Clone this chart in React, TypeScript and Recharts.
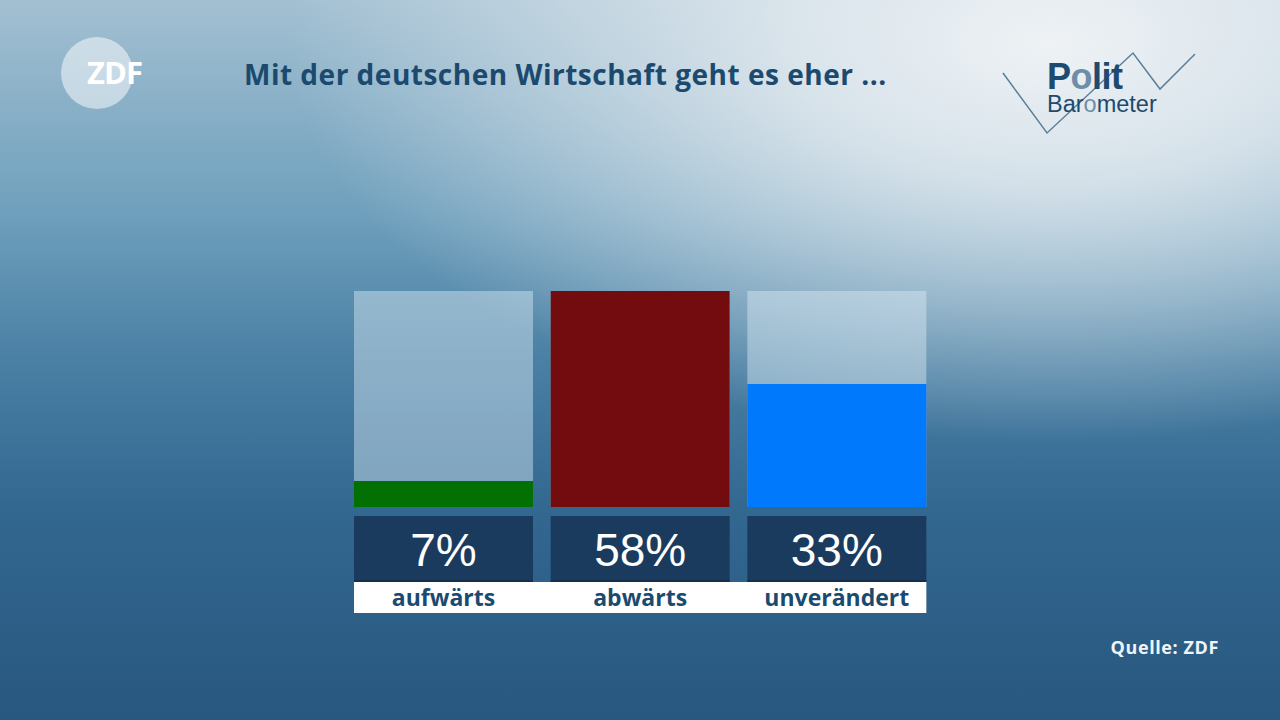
import React from "react";
import { BarChart, Bar, XAxis, YAxis, Cell, LabelList } from "recharts";

const categories = ["aufwärts", "abwärts", "unverändert"];
const values = [7, 58, 33];
const barColors = ["#037003", "#720c0e", "#0179fd"];
const yMax = 58;

const data = categories.map((c, i) => ({ name: c, value: values[i] }));

const BoxLabel = (props: any) => {
  const { x, y, width, height, index, value } = props;
  const bottom = y + height;
  const boxTop = bottom + 9;
  const boxH = 66;
  const stripH = 31;
  const gap = 10;
  const left = index === 0 ? x : x - gap;
  const right = index === categories.length - 1 ? x + width : x + width + gap;
  return (
    <g>
      <rect x={x} y={boxTop} width={width} height={boxH} fill="#1b3b5e" />
      <rect x={x} y={boxTop + boxH - 2} width={width} height={2} fill="#142f4e" />
      <rect x={left} y={boxTop + boxH} width={right - left} height={stripH} fill="#ffffff" />
      <text
        x={x + width / 2}
        y={boxTop + 50}
        textAnchor="middle"
        fill="#ffffff"
        fontSize={46}
        fontFamily="'Liberation Sans', Arial, sans-serif"
      >
        {value}%
      </text>
      <text
        x={x + width / 2}
        y={boxTop + boxH + 24}
        textAnchor="middle"
        fill="#1b4a70"
        fontSize={23}
        fontWeight={700}
        fontFamily="'Open Sans', sans-serif"
      >
        {categories[index]}
      </text>
    </g>
  );
};

export default function App() {
  return (
    <div
      style={{
        position: "fixed",
        left: 0,
        top: 0,
        width: 1280,
        height: 720,
        overflow: "hidden",
        background:
          "radial-gradient(ellipse 760px 400px at 82% 6%, rgba(238,242,245,1) 0%, rgba(228,235,240,0.85) 35%, rgba(200,218,230,0) 100%), linear-gradient(to bottom, #a3c0d2 0%, #6e9fbc 30%, #4a80a4 50%, #336891 70%, #28577f 100%)",
      }}
    >
      <svg width={1280} height={720} style={{ position: "absolute", left: 0, top: 0 }}>
        <circle cx={97} cy={73} r={36} fill="rgba(255,255,255,0.5)" />
        <text x={87} y={84} fill="#ffffff" fontSize={31} fontWeight={700} fontFamily="'Open Sans', sans-serif" letterSpacing={-1}>
          ZDF
        </text>
        <text x={244} y={85} fill="#1b4a6e" fontSize={28} fontWeight={700} fontFamily="'Open Sans', sans-serif" letterSpacing={0.5}>
          Mit der deutschen Wirtschaft geht es eher ...
        </text>
        <polyline
          points="1003,73 1047,133 1133,53 1160,89 1195,54"
          fill="none"
          stroke="#5a7f9a"
          strokeWidth={1.5}
        />
        <text x={1047} y={89} fill="#1d4a6e" fontSize={36} fontWeight={700} fontFamily="'Liberation Sans', Arial, sans-serif" letterSpacing={-0.5}>
          P<tspan fill="#6c8ea8">o</tspan>lit
        </text>
        <text x={1047} y={112} fill="#1d4a6e" fontSize={23.5} fontFamily="'Liberation Sans', Arial, sans-serif">
          Bar<tspan fill="#6c8ea8">o</tspan>meter
        </text>
        <text x={1219} y={654} textAnchor="end" fill="#f0f4f7" fontSize={18} fontWeight={700} fontFamily="'Open Sans', sans-serif" letterSpacing={0.6}>
          Quelle: ZDF
        </text>
      </svg>
      <div style={{ position: "absolute", left: 0, top: 0 }}>
        <BarChart
          width={1280}
          height={720}
          data={data}
          margin={{ top: 291, right: 345, bottom: 213, left: 345 }}
          barSize={179}
        >
          <XAxis dataKey="name" hide />
          <YAxis domain={[0, yMax]} hide />
          <Bar
            dataKey="value"
            isAnimationActive={false}
            background={{ fill: "rgba(220,235,245,0.45)" }}
          >
            {data.map((d, i) => (
              <Cell key={d.name} fill={barColors[i]} />
            ))}
            <LabelList dataKey="value" content={<BoxLabel />} />
          </Bar>
        </BarChart>
      </div>
    </div>
  );
}
